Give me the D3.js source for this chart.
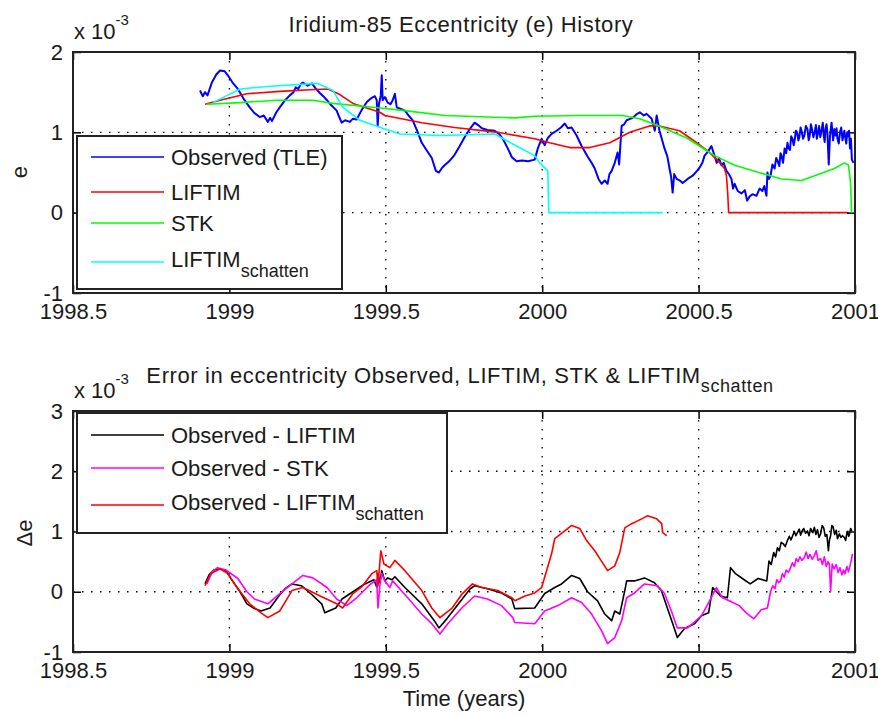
<!DOCTYPE html>
<html>
<head>
<meta charset="utf-8">
<script src="https://cdn.jsdelivr.net/npm/d3@7"></script>
<style>
  body { margin: 0; background: #fff; }
  text { font-family: Arial, "Liberation Sans", Helvetica, sans-serif; fill: #1a1a1a; }
</style>
</head>
<body>
<div id="chart"></div>
<script>
// ---- data, e in units of 1e-3 ----
const xTicks = [1998.5, 1999, 1999.5, 2000, 2000.5, 2001];
const yTicksTop = [-1, 0, 1, 2];
const yTicksBottom = [-1, 0, 1, 2, 3];

const observed = [[1998.906,1.52],[1998.915,1.45],[1998.922,1.50],[1998.93,1.46],[1998.944,1.62],[1998.958,1.72],[1998.970,1.77],[1998.985,1.76],[1998.995,1.71],[1999.010,1.62],[1999.027,1.54],[1999.045,1.42],[1999.065,1.31],[1999.080,1.24],[1999.097,1.19],[1999.110,1.21],[1999.123,1.13],[1999.130,1.18],[1999.136,1.14],[1999.150,1.25],[1999.161,1.31],[1999.178,1.40],[1999.193,1.46],[1999.205,1.50],[1999.212,1.56],[1999.220,1.54],[1999.228,1.60],[1999.235,1.62],[1999.250,1.58],[1999.264,1.61],[1999.275,1.55],[1999.289,1.49],[1999.300,1.45],[1999.312,1.40],[1999.325,1.34],[1999.343,1.27],[1999.350,1.20],[1999.359,1.12],[1999.370,1.15],[1999.385,1.13],[1999.395,1.17],[1999.407,1.16],[1999.423,1.28],[1999.440,1.38],[1999.455,1.43],[1999.465,1.45],[1999.471,1.40],[1999.474,1.08],[1999.478,1.35],[1999.484,1.46],[1999.487,1.71],[1999.490,1.40],[1999.497,1.44],[1999.506,1.37],[1999.515,1.35],[1999.522,1.40],[1999.529,1.48],[1999.535,1.31],[1999.548,1.29],[1999.561,1.27],[1999.575,1.20],[1999.586,1.15],[1999.600,1.02],[1999.615,0.87],[1999.630,0.78],[1999.647,0.68],[1999.660,0.52],[1999.670,0.50],[1999.680,0.56],[1999.688,0.59],[1999.705,0.65],[1999.720,0.72],[1999.735,0.82],[1999.752,0.94],[1999.770,1.05],[1999.784,1.12],[1999.795,1.09],[1999.807,1.05],[1999.825,1.03],[1999.848,1.02],[1999.862,0.98],[1999.874,0.92],[1999.890,0.80],[1999.903,0.69],[1999.918,0.64],[1999.935,0.65],[1999.955,0.64],[1999.976,0.66],[1999.986,0.80],[1999.998,0.92],[2000.008,0.84],[2000.018,0.93],[2000.030,0.98],[2000.046,1.02],[2000.060,1.06],[2000.072,1.11],[2000.082,1.05],[2000.094,1.06],[2000.110,0.96],[2000.126,0.83],[2000.145,0.70],[2000.158,0.62],[2000.168,0.55],[2000.180,0.42],[2000.190,0.36],[2000.200,0.40],[2000.209,0.36],[2000.215,0.48],[2000.222,0.52],[2000.232,0.62],[2000.241,0.75],[2000.246,0.60],[2000.254,1.08],[2000.262,1.10],[2000.270,1.15],[2000.289,1.18],[2000.300,1.22],[2000.312,1.25],[2000.325,1.21],[2000.334,1.23],[2000.350,1.17],[2000.360,1.02],[2000.366,1.21],[2000.375,1.02],[2000.391,0.80],[2000.400,0.70],[2000.407,0.55],[2000.412,0.45],[2000.417,0.25],[2000.422,0.48],[2000.430,0.42],[2000.440,0.40],[2000.449,0.37],[2000.465,0.42],[2000.481,0.46],[2000.495,0.52],[2000.503,0.56],[2000.512,0.62],[2000.519,0.71],[2000.530,0.76],[2000.541,0.83],[2000.550,0.72],[2000.558,0.62],[2000.565,0.68],[2000.573,0.59],[2000.580,0.62],[2000.589,0.52],[2000.597,0.48],[2000.605,0.42],[2000.610,0.30],[2000.615,0.36],[2000.625,0.27],[2000.637,0.24],[2000.648,0.28],[2000.655,0.15],[2000.663,0.20],[2000.672,0.23],[2000.685,0.21],[2000.695,0.30],[2000.704,0.27],[2000.710,0.33],[2000.717,0.21],[2000.720,0.50],[2000.725,0.42],[2000.730,0.46],[2000.736,0.60],[2000.743,0.55],[2000.748,0.68],[2000.752,0.65],[2000.758,0.58],[2000.762,0.74],[2000.765,0.71],[2000.770,0.62],[2000.775,0.80],[2000.780,0.74],[2000.784,0.87],[2000.788,0.80],[2000.792,0.78],[2000.796,0.95],[2000.800,0.92],[2000.804,0.84],[2000.807,0.90],[2000.811,1.02],[2000.815,1.00],[2000.819,0.90],[2000.822,0.94],[2000.826,1.06],[2000.829,1.02],[2000.834,0.92],[2000.838,0.96],[2000.843,1.08],[2000.848,1.04],[2000.852,0.90],[2000.855,0.95],[2000.859,1.10],[2000.862,1.05],[2000.867,0.94],[2000.871,1.00],[2000.875,1.09],[2000.878,0.92],[2000.882,1.00],[2000.885,1.08],[2000.889,0.94],[2000.893,1.02],[2000.897,1.12],[2000.900,0.96],[2000.903,0.88],[2000.906,1.05],[2000.909,1.10],[2000.912,0.98],[2000.916,0.60],[2000.920,0.95],[2000.925,1.12],[2000.928,1.00],[2000.930,0.90],[2000.934,1.04],[2000.938,0.96],[2000.941,1.05],[2000.944,0.92],[2000.948,0.86],[2000.952,1.00],[2000.956,1.06],[2000.960,0.90],[2000.963,0.97],[2000.966,1.02],[2000.969,0.93],[2000.972,0.86],[2000.975,1.00],[2000.978,0.95],[2000.981,1.02],[2000.984,0.80],[2000.987,0.92],[2000.990,0.66],[2000.995,0.62]];

const liftim = [[1998.922,1.35],[1998.970,1.40],[1999.056,1.48],[1999.161,1.51],[1999.257,1.53],[1999.315,1.54],[1999.353,1.47],[1999.395,1.36],[1999.481,1.25],[1999.497,1.21],[1999.615,1.12],[1999.720,1.06],[1999.858,1.00],[1999.976,0.92],[2000.024,0.87],[2000.088,0.81],[2000.152,0.81],[2000.216,0.87],[2000.280,1.00],[2000.343,1.08],[2000.375,1.08],[2000.439,1.02],[2000.494,0.87],[2000.529,0.77],[2000.561,0.65],[2000.583,0.55],[2000.589,0.46],[2000.593,0.25],[2000.596,0],[2000.976,0]];

const stk = [[1998.928,1.35],[1999.034,1.37],[1999.152,1.40],[1999.267,1.40],[1999.331,1.36],[1999.490,1.30],[1999.561,1.27],[1999.688,1.21],[1999.912,1.18],[1999.976,1.20],[2000.120,1.21],[2000.257,1.21],[2000.312,1.17],[2000.385,1.06],[2000.462,0.93],[2000.503,0.83],[2000.551,0.71],[2000.615,0.59],[2000.701,0.49],[2000.765,0.42],[2000.829,0.40],[2000.893,0.49],[2000.934,0.55],[2000.966,0.62],[2000.979,0.59],[2000.986,0.37],[2000.989,0]];

const liftimSchatten = [[1998.947,1.37],[1999.034,1.54],[1999.120,1.57],[1999.280,1.61],[1999.331,1.52],[1999.363,1.31],[1999.417,1.15],[1999.490,1.05],[1999.545,0.98],[1999.673,0.96],[1999.848,0.98],[1999.903,0.86],[1999.976,0.71],[1999.992,0.62],[2000.018,0.52],[2000.021,0],[2000.385,0]];

const errLiftim = [[1998.922,0.13],[1998.935,0.28],[1998.950,0.36],[1998.970,0.38],[1998.990,0.34],[1999.010,0.18],[1999.034,0.0],[1999.056,-0.2],[1999.080,-0.28],[1999.101,-0.32],[1999.130,-0.27],[1999.161,-0.05],[1999.180,0.06],[1999.200,0.13],[1999.230,0.10],[1999.264,-0.05],[1999.295,-0.20],[1999.305,-0.35],[1999.340,-0.27],[1999.360,-0.12],[1999.395,0.0],[1999.430,0.12],[1999.462,0.2],[1999.471,0.08],[1999.475,0.30],[1999.481,0.15],[1999.487,0.35],[1999.497,0.18],[1999.506,0.23],[1999.520,0.20],[1999.529,0.25],[1999.561,0.07],[1999.615,-0.20],[1999.655,-0.48],[1999.670,-0.60],[1999.695,-0.45],[1999.740,-0.15],[1999.770,0.05],[1999.784,0.10],[1999.825,0.05],[1999.870,-0.02],[1999.903,-0.12],[1999.912,-0.28],[1999.976,-0.27],[2000.008,-0.03],[2000.040,0.07],[2000.062,0.13],[2000.094,0.27],[2000.120,0.22],[2000.145,0.0],[2000.177,-0.15],[2000.200,-0.37],[2000.222,-0.48],[2000.232,-0.32],[2000.248,-0.37],[2000.264,0.02],[2000.270,0.18],[2000.295,0.18],[2000.327,0.23],[2000.359,0.15],[2000.381,0.02],[2000.400,-0.27],[2000.416,-0.51],[2000.432,-0.76],[2000.455,-0.61],[2000.487,-0.53],[2000.509,-0.40],[2000.532,-0.35],[2000.545,0.07],[2000.570,-0.07],[2000.592,-0.10],[2000.602,0.40],[2000.618,0.30],[2000.640,0.22],[2000.665,0.13],[2000.690,0.22],[2000.718,0.18],[2000.725,0.51],[2000.732,0.45],[2000.740,0.65],[2000.746,0.58],[2000.752,0.73],[2000.758,0.68],[2000.764,0.82],[2000.770,0.80],[2000.777,0.75],[2000.784,0.85],[2000.790,0.92],[2000.795,0.86],[2000.800,0.92],[2000.806,1.0],[2000.811,0.93],[2000.816,0.98],[2000.822,1.04],[2000.826,0.94],[2000.830,1.00],[2000.836,1.05],[2000.842,0.97],[2000.848,1.01],[2000.853,0.93],[2000.858,1.05],[2000.865,0.98],[2000.870,1.07],[2000.875,0.95],[2000.880,1.03],[2000.885,0.90],[2000.890,0.96],[2000.895,1.10],[2000.900,1.06],[2000.905,0.92],[2000.910,0.95],[2000.915,0.68],[2000.918,0.85],[2000.922,0.93],[2000.926,1.10],[2000.930,1.08],[2000.935,0.95],[2000.940,1.02],[2000.944,0.88],[2000.950,0.96],[2000.955,0.90],[2000.960,0.93],[2000.966,0.90],[2000.970,0.85],[2000.975,1.0],[2000.980,0.92],[2000.982,0.95],[2000.986,1.05],[2000.990,1.01]];

const errStk = [[1998.928,0.13],[1998.945,0.33],[1998.962,0.40],[1998.990,0.36],[1999.027,0.22],[1999.056,0.0],[1999.080,-0.12],[1999.123,-0.20],[1999.161,-0.03],[1999.200,0.13],[1999.235,0.27],[1999.267,0.23],[1999.312,0.07],[1999.343,-0.12],[1999.375,-0.23],[1999.407,-0.10],[1999.430,0.02],[1999.452,0.13],[1999.471,0.20],[1999.475,-0.27],[1999.481,0.10],[1999.487,0.30],[1999.497,0.18],[1999.513,0.07],[1999.522,0.18],[1999.570,-0.10],[1999.615,-0.37],[1999.647,-0.53],[1999.673,-0.70],[1999.698,-0.53],[1999.743,-0.27],[1999.784,-0.07],[1999.825,-0.12],[1999.870,-0.23],[1999.906,-0.43],[1999.912,-0.51],[1999.976,-0.53],[2000.008,-0.32],[2000.050,-0.23],[2000.094,-0.10],[2000.126,-0.18],[2000.158,-0.37],[2000.190,-0.65],[2000.209,-0.86],[2000.232,-0.76],[2000.254,-0.48],[2000.270,-0.10],[2000.295,-0.02],[2000.327,0.13],[2000.369,0.10],[2000.391,-0.03],[2000.413,-0.32],[2000.432,-0.60],[2000.465,-0.60],[2000.509,-0.40],[2000.535,-0.15],[2000.557,0.07],[2000.576,-0.10],[2000.598,-0.15],[2000.630,-0.23],[2000.652,-0.35],[2000.677,-0.45],[2000.700,-0.30],[2000.720,-0.27],[2000.730,0.0],[2000.737,0.10],[2000.744,0.05],[2000.750,0.20],[2000.756,0.15],[2000.762,0.18],[2000.768,0.30],[2000.774,0.24],[2000.780,0.36],[2000.787,0.32],[2000.794,0.40],[2000.800,0.48],[2000.806,0.42],[2000.812,0.55],[2000.818,0.50],[2000.824,0.58],[2000.830,0.52],[2000.838,0.57],[2000.844,0.66],[2000.850,0.55],[2000.856,0.62],[2000.863,0.54],[2000.870,0.60],[2000.876,0.68],[2000.882,0.52],[2000.890,0.55],[2000.896,0.45],[2000.902,0.58],[2000.908,0.42],[2000.914,0.50],[2000.918,0.46],[2000.922,0.0],[2000.927,0.46],[2000.933,0.38],[2000.940,0.45],[2000.946,0.32],[2000.952,0.40],[2000.958,0.28],[2000.963,0.36],[2000.968,0.30],[2000.974,0.42],[2000.979,0.33],[2000.984,0.43],[2000.988,0.52],[2000.992,0.63]];

const errSchatten = [[1998.922,0.10],[1998.940,0.30],[1998.970,0.38],[1998.995,0.30],[1999.024,0.07],[1999.065,-0.20],[1999.101,-0.35],[1999.123,-0.43],[1999.161,-0.32],[1999.200,0.02],[1999.235,0.07],[1999.290,-0.07],[1999.343,-0.20],[1999.362,-0.27],[1999.395,-0.03],[1999.423,0.08],[1999.455,0.30],[1999.471,0.35],[1999.475,0.10],[1999.484,0.68],[1999.494,0.46],[1999.513,0.40],[1999.529,0.52],[1999.561,0.35],[1999.615,0.02],[1999.647,-0.27],[1999.673,-0.43],[1999.712,-0.27],[1999.745,-0.03],[1999.777,0.13],[1999.807,0.07],[1999.858,0.02],[1999.903,-0.10],[1999.913,-0.15],[1999.945,-0.07],[1999.976,-0.02],[1999.998,0.07],[2000.014,0.35],[2000.030,0.63],[2000.040,0.88],[2000.072,1.01],[2000.094,1.10],[2000.120,1.05],[2000.142,0.85],[2000.168,0.68],[2000.193,0.48],[2000.209,0.35],[2000.232,0.43],[2000.248,0.65],[2000.264,1.06],[2000.286,1.13],[2000.318,1.21],[2000.337,1.26],[2000.366,1.21],[2000.382,1.13],[2000.385,0.98],[2000.398,0.93]];

// ---- layout ----
const W = 878, H = 716;
const left = 73, right = 855;
const topPanel = { y0: 52, y1: 293 };
const botPanel = { y0: 411, y1: 652 };
const fontSize = 22;

const svg = d3.select("#chart").append("svg")
  .attr("width", W)
  .attr("height", H);

const x = d3.scaleLinear().domain([1998.5, 2001]).range([left, right]);
const yTop = d3.scaleLinear().domain([-1, 2]).range([topPanel.y1, topPanel.y0]);
const yBot = d3.scaleLinear().domain([-1, 3]).range([botPanel.y1, botPanel.y0]);

function drawPanel(y, yTicks, panel) {
  const g = svg.append("g");

  // dotted grid at inner ticks
  g.selectAll(".vgrid")
    .data(xTicks.slice(1, -1))
    .join("line")
    .attr("x1", d => x(d)).attr("x2", d => x(d))
    .attr("y1", panel.y0).attr("y2", panel.y1)
    .attr("stroke", "#000").attr("stroke-width", 1.3)
    .attr("stroke-dasharray", "1.5,7.5");
  g.selectAll(".hgrid")
    .data(yTicks.slice(1, -1))
    .join("line")
    .attr("x1", left).attr("x2", right)
    .attr("y1", d => y(d)).attr("y2", d => y(d))
    .attr("stroke", "#000").attr("stroke-width", 1.3)
    .attr("stroke-dasharray", "1.5,7.5");

  // axes with inward ticks
  const axB = g.append("g")
    .attr("transform", `translate(0,${panel.y1})`)
    .call(d3.axisBottom(x).tickValues(xTicks).tickFormat(d => d)
      .tickSizeInner(-8).tickSizeOuter(0).tickPadding(10));
  const axT = g.append("g")
    .attr("transform", `translate(0,${panel.y0})`)
    .call(d3.axisTop(x).tickValues(xTicks).tickFormat("")
      .tickSizeInner(-8).tickSizeOuter(0));
  const axL = g.append("g")
    .attr("transform", `translate(${left},0)`)
    .call(d3.axisLeft(y).tickValues(yTicks).tickFormat(d => d)
      .tickSizeInner(-8).tickSizeOuter(0).tickPadding(10));
  const axR = g.append("g")
    .attr("transform", `translate(${right},0)`)
    .call(d3.axisRight(y).tickValues(yTicks).tickFormat("")
      .tickSizeInner(-8).tickSizeOuter(0));

  [axB, axT, axL, axR].forEach(a => {
    a.select(".domain").remove();
    a.selectAll("line").attr("stroke", "#000").attr("stroke-width", 1.5);
    a.selectAll("text")
      .attr("font-size", fontSize)
      .attr("font-family", "Arial, 'Liberation Sans', sans-serif")
      .attr("fill", "#1a1a1a");
  });

  // box
  g.append("rect")
    .attr("x", left).attr("y", panel.y0)
    .attr("width", right - left).attr("height", panel.y1 - panel.y0)
    .attr("fill", "none").attr("stroke", "#222").attr("stroke-width", 2);

  // exponent label
  const ex = g.append("text")
    .attr("x", 74).attr("y", panel.y0 - 13)
    .attr("font-size", fontSize);
  ex.append("tspan").text("x 10");
  ex.append("tspan").attr("dy", -14).attr("font-size", 15).text("-3");

  return g;
}

const gTop = drawPanel(yTop, yTicksTop, topPanel);
const gBot = drawPanel(yBot, yTicksBottom, botPanel);

function addLine(g, data, y, color, width) {
  g.append("path")
    .datum(data)
    .attr("fill", "none")
    .attr("stroke", color)
    .attr("stroke-width", width)
    .attr("stroke-linejoin", "round")
    .attr("d", d3.line().x(d => x(d[0])).y(d => y(d[1])));
}

// top panel series
addLine(gTop, observed, yTop, "#0000ff", 2);
addLine(gTop, liftim, yTop, "#ff0000", 1.6);
addLine(gTop, stk, yTop, "#00ff00", 1.6);
addLine(gTop, liftimSchatten, yTop, "#00ffff", 1.6);

// bottom panel series
addLine(gBot, errLiftim, yBot, "#000000", 1.6);
addLine(gBot, errStk, yBot, "#ff00ff", 1.6);
addLine(gBot, errSchatten, yBot, "#ff0000", 1.6);

// legends
function legend(box, items) {
  const lg = svg.append("g");
  lg.append("rect")
    .attr("x", box.x).attr("y", box.y)
    .attr("width", box.w).attr("height", box.h)
    .attr("fill", "#fff").attr("stroke", "#222").attr("stroke-width", 2);
  items.forEach(it => {
    lg.append("line")
      .attr("x1", 91).attr("x2", 164)
      .attr("y1", it.y).attr("y2", it.y)
      .attr("stroke", it.color).attr("stroke-width", 1.6);
    const t = lg.append("text")
      .attr("x", 171).attr("y", it.y + (it.sub ? 5 : 8))
      .attr("font-size", fontSize);
    t.append("tspan").text(it.label);
    if (it.sub) t.append("tspan").attr("dy", 10).attr("font-size", 18).text(it.sub);
  });
}

legend({ x: 77, y: 136, w: 265, h: 153 }, [
  { label: "Observed (TLE)", color: "#0000ff", y: 157 },
  { label: "LIFTIM", color: "#ff0000", y: 192 },
  { label: "STK", color: "#00ff00", y: 223 },
  { label: "LIFTIM", sub: "schatten", color: "#00ffff", y: 262 }
]);

legend({ x: 77, y: 413, w: 370, h: 120 }, [
  { label: "Observed - LIFTIM", color: "#000000", y: 435 },
  { label: "Observed - STK", color: "#ff00ff", y: 468 },
  { label: "Observed - LIFTIM", sub: "schatten", color: "#ff0000", y: 505 }
]);

// titles and axis labels
const cx = (left + right) / 2;
svg.append("text")
  .attr("x", cx - 3).attr("y", 32)
  .attr("text-anchor", "middle")
  .attr("font-size", fontSize)
  .attr("letter-spacing", 0.6)
  .text("Iridium-85 Eccentricity (e) History");

const t2 = svg.append("text")
  .attr("x", cx - 4).attr("y", 383)
  .attr("text-anchor", "middle")
  .attr("font-size", fontSize)
  .attr("letter-spacing", 0.6);
t2.append("tspan").text("Error in eccentricity Observed, LIFTIM, STK & LIFTIM");
t2.append("tspan").attr("dy", 9).attr("font-size", 18).text("schatten");

svg.append("text")
  .attr("transform", `translate(27,172) rotate(-90)`)
  .attr("text-anchor", "middle")
  .attr("font-size", fontSize)
  .text("e");

svg.append("text")
  .attr("transform", `translate(32,533) rotate(-90)`)
  .attr("text-anchor", "middle")
  .attr("font-size", fontSize)
  .text("Δe");

svg.append("text")
  .attr("x", cx).attr("y", 706)
  .attr("text-anchor", "middle")
  .attr("font-size", fontSize)
  .text("Time (years)");
</script>
</body>
</html>
